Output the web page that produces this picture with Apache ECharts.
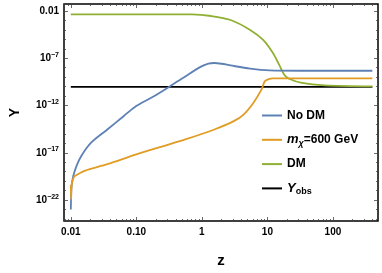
<!DOCTYPE html>
<html><head><meta charset="utf-8">
<script src="https://cdn.jsdelivr.net/npm/echarts@6/dist/echarts.min.js"></script>
<style>html,body{margin:0;padding:0;background:#fff}#c{width:382px;height:273px}</style>
</head><body><div id="c"></div>
<script>
// ---- data (z, Y) ----
const zNoDM = [0.01, 0.01014, 0.01028, 0.01059, 0.01089, 0.01219, 0.01445, 0.0204, 0.0361, 0.0638, 0.0951, 0.174, 0.315, 0.557, 0.986, 1.26, 1.55, 2.0, 2.75, 5.46, 10.8, 31.6, 400];
const yNoDM = [1e-23, 5e-22, 3.2e-21, 1.26e-20, 3.6e-20, 4e-19, 4.6e-18, 1.17e-16, 2.95e-15, 7.4e-14, 7.2e-13, 7.4e-12, 9.3e-11, 1.2e-9, 1.38e-8, 2.75e-8, 3.16e-8, 2.63e-8, 1.74e-8, 7.9e-9, 5.2e-9, 4.8e-9, 4.8e-9];

const zM600 = [0.01, 0.01009, 0.01023, 0.01059, 0.01109, 0.01153, 0.01626, 0.0361, 0.1, 0.251, 0.557, 1.55, 3.07, 4.33, 6.1, 8.11, 9.12, 10.5, 12.1, 24, 400];
const yM600 = [4e-21, 1.26e-22, 2.5e-21, 1.12e-20, 2.5e-20, 3.6e-20, 1.26e-19, 6.3e-19, 6.9e-18, 4.8e-17, 2.6e-16, 2.95e-15, 2.24e-14, 1.12e-13, 1.9e-12, 4.8e-11, 3.6e-10, 6.3e-10, 7.4e-10, 7.4e-10, 7.4e-10];

const zDM = [0.01, 0.316, 0.7, 1.39, 2.75, 5.46, 8.61, 12.1, 15.1, 18.1, 21.4, 33.9, 74, 400];
const yDM = [4.5e-3, 4.5e-3, 4.4e-3, 2.95e-3, 1.12e-3, 1e-4, 8.9e-6, 3.8e-7, 2.1e-8, 1.8e-9, 6.9e-10, 2.45e-10, 1.38e-10, 1.07e-10];

const zObs = [0.01, 400];
const yObs = [9.3e-11, 9.3e-11];

const xTickVals = [0.01, 0.1, 1, 10, 100];
const xTickLabels = ['0.01', '0.10', '1', '10', '100'];
const yTickVals = [1e-2, 1e-7, 1e-12, 1e-17, 1e-22];
const yTickLabels = ['0.01', '10^-7', '10^-12', '10^-17', '10^-22'];

// ---- build ----
const L = Math.log10;
const pairs = (zs, ys) => zs.map((z, i) => [L(z), L(ys[i])]);
const xMin = -2.104, xMax = 2.688, yMin = -24.21, yMax = -1.26;
const xMajor = xTickVals.map(v => Math.round(L(v)));
const xMinor = [];
for (let d = -3; d <= 2; d++) for (let k = 2; k <= 9; k++) { const v = d + L(k); if (v > xMin && v < xMax) xMinor.push(v); }
const yMajor = yTickVals.map(v => Math.round(L(v)));
const yMinor = [];
for (let d = -24; d <= -2; d++) if (!yMajor.includes(d)) yMinor.push(d);

const FONT = 'Liberation Sans';
const tickColor = '#444';

function xLabel(v) { const i = xMajor.indexOf(Math.round(v)); return i >= 0 ? xTickLabels[i] : ''; }
function yLabel(v) {
  const i = yMajor.indexOf(Math.round(v)); if (i < 0) return '';
  const t = yTickLabels[i];
  if (t.indexOf('^') < 0) return t;
  const [b, e] = t.split('^');
  return '{b|' + b + '}{s|' + e.replace('-', '\u2212') + '}';
}

function xAx(pos, ticks, len, labels, extra) {
  return Object.assign({
    type: 'value', min: xMin, max: xMax, position: pos,
    axisLine: { show: false, onZero: false }, splitLine: { show: false },
    axisTick: { show: true, inside: true, length: len, customValues: ticks, lineStyle: { color: tickColor, width: 0.8 } },
    axisLabel: labels ? { show: true, customValues: xMajor, formatter: xLabel, margin: 6, fontFamily: FONT, fontWeight: 'bold', fontSize: 10, color: '#000' } : { show: false }
  }, extra || {});
}
function yAx(pos, ticks, len, labels, extra) {
  return Object.assign({
    type: 'value', min: yMin, max: yMax, position: pos,
    axisLine: { show: false, onZero: false }, splitLine: { show: false },
    axisTick: { show: true, inside: true, length: len, customValues: ticks, lineStyle: { color: tickColor, width: 0.8 } },
    axisLabel: labels ? {
      show: true, customValues: yMajor, formatter: yLabel, margin: 5,
      fontFamily: FONT, fontWeight: 'bold', fontSize: 10, color: '#000',
      rich: {
        b: { fontFamily: FONT, fontWeight: 'bold', fontSize: 10, color: '#000', lineHeight: 14 },
        s: { fontFamily: FONT, fontWeight: 'bold', fontSize: 7, color: '#000', lineHeight: 9, verticalAlign: 'top' }
      }
    } : { show: false }
  }, extra || {});
}

const chart = echarts.init(document.getElementById('c'), null, { renderer: 'canvas' });
const legendRich = {
  n: { fontFamily: FONT, fontWeight: 'bold', fontSize: 12, color: '#000', lineHeight: 16 },
  i: { fontFamily: FONT, fontStyle: 'italic', fontWeight: 'bold', fontSize: 13, color: '#000', lineHeight: 16 },
  s: { fontFamily: FONT, fontStyle: 'italic', fontWeight: 'bold', fontSize: 9, color: '#000', lineHeight: 10, verticalAlign: 'bottom' },
  so: { fontFamily: FONT, fontWeight: 'bold', fontSize: 9, color: '#000', lineHeight: 10, verticalAlign: 'bottom' }
};
const legendText = {
  'No DM': '{n|No DM}',
  'mx': '{i|m}{s|\u03C7}{n|=600 GeV}',
  'DM': '{n|DM}',
  'Yobs': '{i|Y}{so|obs}'
};

chart.setOption({
  animation: false,
  backgroundColor: '#fff',
  grid: { left: 55.5, right: 4, top: 4, bottom: 51, show: true, borderColor: '#000', borderWidth: 1.5, backgroundColor: 'transparent' },
  xAxis: [
    xAx('bottom', xMajor, 4, true, { name: 'z', nameLocation: 'middle', nameGap: 32, nameTextStyle: { fontFamily: FONT, fontWeight: 'bold', fontSize: 15, color: '#000' } }),
    xAx('bottom', xMinor, 2, false),
    xAx('top', xMajor, 4, false),
    xAx('top', xMinor, 2, false)
  ],
  yAxis: [
    yAx('left', yMajor, 4, true, { name: 'Y', nameLocation: 'middle', nameRotate: 90, nameGap: 42, nameTextStyle: { fontFamily: FONT, fontWeight: 'bold', fontSize: 14, color: '#000' } }),
    yAx('left', yMinor, 2, false),
    yAx('right', yMajor, 4, false),
    yAx('right', yMinor, 2, false)
  ],
  legend: {
    orient: 'vertical', left: 262, top: 107.5, padding: 0, itemGap: 8.3, itemWidth: 20, itemHeight: 2, icon: 'rect',
    data: ['No DM', 'mx', 'DM', 'Yobs'],
    formatter: n => legendText[n],
    textStyle: { fontFamily: FONT, fontWeight: 'bold', fontSize: 12, color: '#000', lineHeight: 16, rich: legendRich }
  },
  series: [
    { name: 'No DM', type: 'line', data: pairs(zNoDM, yNoDM), showSymbol: false, smooth: 0.3, lineStyle: { color: '#5E81B5', width: 1.8 }, itemStyle: { color: '#5E81B5' }, z: 3 },
    { name: 'mx', type: 'line', data: pairs(zM600, yM600), showSymbol: false, smooth: 0.3, lineStyle: { color: '#E19C24', width: 1.8 }, itemStyle: { color: '#E19C24' }, z: 4 },
    { name: 'DM', type: 'line', data: pairs(zDM, yDM), showSymbol: false, smooth: 0.3, lineStyle: { color: '#8FB032', width: 1.8 }, itemStyle: { color: '#8FB032' }, z: 2 },
    { name: 'Yobs', type: 'line', data: pairs(zObs, yObs), showSymbol: false, lineStyle: { color: '#000', width: 1.8 }, itemStyle: { color: '#000' }, z: 1 }
  ]
});
</script></body></html>
